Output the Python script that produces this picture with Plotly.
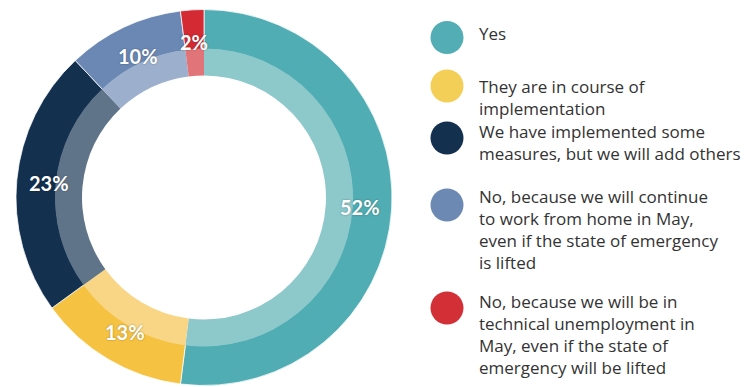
import numpy as np
import plotly.graph_objects as go

# ---------------- data ----------------
categories = [
    "Yes",
    "They are in course of implementation",
    "We have implemented some measures, but we will add others",
    "No, because we will continue to work from home in May, even if the state of emergency is lifted",
    "No, because we will be in technical unemployment in May, even if the state of emergency will be lifted",
]
legend_text = [
    "Yes",
    "They are in course of<br>implementation",
    "We have implemented some<br>measures, but we will add others",
    "No, because we will continue<br>to work from home in May,<br>even if the state of emergency<br>is lifted",
    "No, because we will be in<br>technical unemployment in<br>May, even if the state of<br>emergency will be lifted",
]
values = [52, 13, 23, 10, 2]

# ---------------- styles / layout ----------------
outer_colors = ["#4FADB3", "#F5C242", "#13304F", "#6A88B3", "#D32A33"]
inner_colors = ["#8DC8CB", "#F8D685", "#5F7488", "#9CB0CD", "#E07479"]
legend_colors = ["#52AEB4", "#F4CF57", "#13304F", "#6C89B4", "#D32F36"]

W, H = 747, 387
CX, CY = 204, 197.5
R_OUT, R_MID, R_IN, R_TXT = 188, 148, 122, 156

legend_circle_y = [37.5, 86, 138, 205, 308]
legend_text_top = [20, 73, 118, 183, 288]
LEG_CX, LEG_R, LEG_TX = 447, 16.5, 477


def dom(r):
    return dict(x=[(CX - r) / W, (CX + r) / W], y=[(H - CY - r) / H, (H - CY + r) / H])


fig = go.Figure()
fig.add_trace(go.Pie(
    values=values, labels=categories, sort=False, direction="clockwise", rotation=0,
    hole=R_MID / R_OUT, domain=dom(R_OUT), textinfo="none", showlegend=False,
    marker=dict(colors=outer_colors, line=dict(color="rgba(255,255,255,0.75)", width=1)),
))
fig.add_trace(go.Pie(
    values=values, labels=categories, sort=False, direction="clockwise", rotation=0,
    hole=R_IN / (R_MID + 1), domain=dom(R_MID + 1), textinfo="none", showlegend=False,
    marker=dict(colors=inner_colors, line=dict(color="rgba(255,255,255,0)", width=0)),
))

annotations = []
vals = np.array(values, dtype=float)
mid = (np.cumsum(vals) - vals / 2) / vals.sum() * 2 * np.pi
for v, a in zip(values, mid):
    px = CX + R_TXT * np.sin(a)
    py = CY - R_TXT * np.cos(a)
    annotations.append(dict(
        x=px / W, y=(H - py) / H, xref="paper", yref="paper", showarrow=False,
        text=f"{v}%", xanchor="center", yanchor="middle",
        font=dict(family="Lato", size=20, color="white", weight="bold",
                  shadow="0px 0px 2px rgba(0,0,0,0.35)"),
    ))

shapes = []
for txt, col, cy, ty in zip(legend_text, legend_colors, legend_circle_y, legend_text_top):
    shapes.append(dict(
        type="circle", xref="paper", yref="paper", xsizemode="pixel", ysizemode="pixel",
        xanchor=LEG_CX / W, yanchor=(H - cy) / H,
        x0=-LEG_R, x1=LEG_R, y0=-LEG_R, y1=LEG_R,
        fillcolor=col, line=dict(width=0),
    ))
    annotations.append(dict(
        x=LEG_TX / W, y=(H - ty) / H, xref="paper", yref="paper", showarrow=False,
        text=txt, xanchor="left", yanchor="top", align="left",
        font=dict(family="Open Sans", size=17, color="#333333"),
    ))

fig.update_layout(
    width=W, height=H, margin=dict(l=0, r=0, t=0, b=0),
    paper_bgcolor="white", plot_bgcolor="white",
    annotations=annotations, shapes=shapes, showlegend=False,
)
fig.write_html("out.html")
